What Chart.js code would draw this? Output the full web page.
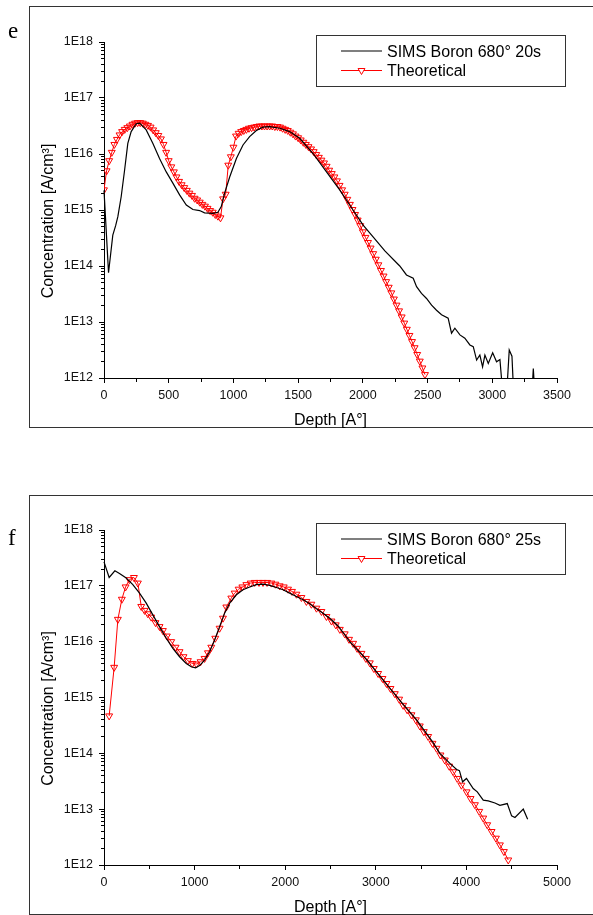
<!DOCTYPE html>
<html>
<head>
<meta charset="utf-8">
<title>Boron profiles, SIMS vs theoretical</title>
<script src="https://cdn.jsdelivr.net/npm/chart.js@4.4.1/dist/chart.umd.min.js"></script>
<style>
  html, body { margin: 0; padding: 0; background: #fff; }
  body { position: relative; width: 593px; height: 915px; overflow: hidden; }
  .frame { position: absolute; left: 29px; width: 600px; border: 1px solid #333; border-right: none; box-sizing: border-box; }
  .panel { position: absolute; left: 0; width: 593px; }
  canvas { display: block; }
</style>
</head>
<body>
<div class="frame" style="top:6px;height:422px"></div>
<div class="frame" style="top:495px;height:420px"></div>
<div class="panel" style="top:0;height:440px"><canvas id="chartE" width="593" height="440"></canvas></div>
<div class="panel" style="top:455px;height:460px"><canvas id="chartF" width="593" height="460"></canvas></div>

<script>
// ---- panel e : 680° 20s ----
const depthSimsE = [0, 35, 68, 90, 107, 133, 159, 184, 210, 249, 275, 326, 377, 429, 481, 532, 584, 636, 687, 739,
  777, 842, 880, 906, 932, 971, 1023, 1074, 1125, 1177, 1228, 1280, 1359, 1434, 1512, 1615, 1719, 1821, 1924, 2002,
  2079, 2170, 2285, 2337, 2389, 2415, 2453, 2492, 2531, 2569, 2608, 2659, 2685, 2711, 2750, 2788, 2827, 2853, 2879, 2904,
  2925, 2943, 2969, 3003, 3033, 3059, 3090, 3105, 3131, 3152, 3170, 3300, 3317, 3335];
const concSimsE = [2.24e15, 7.59e13, 3.55e14, 5.25e14, 7.59e14, 1.74e15, 5.13e15, 1.55e16, 2.51e16, 3.47e16, 3.55e16, 2.69e16, 1.55e16, 8.32e15, 4.79e15, 3.02e15, 1.86e15, 1.23e15, 1.02e15, 9.77e14,
  8.91e14, 8.71e14, 9.12e14, 1.15e15, 2.00e15, 3.89e15, 8.32e15, 1.45e16, 2.04e16, 2.63e16, 3.02e16, 3.09e16, 2.88e16, 2.51e16, 1.91e16, 1.02e16, 4.79e15, 2.29e15, 1.00e15, 5.37e14,
  3.31e14, 1.86e14, 1.00e14, 6.92e13, 6.03e13, 4.27e13, 3.24e13, 2.63e13, 2.00e13, 1.62e13, 1.35e13, 1.17e13, 6.31e12, 7.76e12, 5.89e12, 5.13e12, 3.89e12, 3.63e12, 2.09e12, 2.57e12,
  1.58e12, 2.57e12, 1.82e12, 2.82e12, 1.95e12, 2.14e12, 3e11, 3e11, 3.16e12, 2.45e12, 3e11, 3e11, 1.48e12, 3e11];

const depthTheoE = [0, 20, 40, 60, 80, 100, 120, 140, 160, 180, 200, 220, 240, 260, 280, 300, 320, 340, 360, 380,
  400, 420, 440, 460, 480, 500, 520, 540, 560, 580, 600, 620, 640, 660, 680, 700, 720, 740, 760, 780,
  800, 820, 840, 860, 880, 900, 920, 940, 960, 980, 1000, 1020, 1040, 1060, 1080, 1100, 1120, 1140, 1160, 1180,
  1200, 1220, 1240, 1260, 1280, 1300, 1320, 1340, 1360, 1380, 1400, 1420, 1440, 1460, 1480, 1500, 1520, 1540, 1560, 1580,
  1600, 1620, 1640, 1660, 1680, 1700, 1720, 1740, 1760, 1780, 1800, 1820, 1840, 1860, 1880, 1900, 1920, 1940, 1960, 1980,
  2000, 2020, 2040, 2060, 2080, 2100, 2120, 2140, 2160, 2180, 2200, 2220, 2240, 2260, 2280, 2300, 2320, 2340, 2360, 2380,
  2400, 2420, 2440, 2460, 2480];
const concTheoE = [2.29e15, 5.01e15, 7.59e15, 1.07e16, 1.48e16, 1.82e16, 2.19e16, 2.51e16, 2.75e16, 2.95e16,
  3.16e16, 3.39e16, 3.55e16, 3.63e16, 3.63e16, 3.55e16, 3.39e16, 3.24e16, 3.02e16, 2.69e16,
  2.40e16, 2.14e16, 1.86e16, 1.48e16, 1.07e16, 7.59e15, 5.89e15, 4.79e15, 3.89e15, 3.24e15,
  2.82e15, 2.51e15, 2.24e15, 2.00e15, 1.82e15, 1.62e15, 1.51e15, 1.38e15, 1.26e15, 1.17e15,
  1.07e15, 9.77e14, 9.12e14, 8.32e14, 7.76e14, 7.24e14, 1.58e15, 1.91e15, 6.31e15, 8.91e15,
  1.32e16, 2.09e16, 2.34e16, 2.51e16, 2.63e16, 2.75e16, 2.88e16, 2.95e16, 3.02e16, 3.09e16,
  3.16e16, 3.16e16, 3.16e16, 3.16e16, 3.16e16, 3.16e16, 3.09e16, 3.09e16, 3.02e16, 2.88e16,
  2.75e16, 2.63e16, 2.45e16, 2.29e16, 2.09e16, 1.95e16, 1.78e16, 1.62e16, 1.48e16, 1.35e16,
  1.23e16, 1.10e16, 9.77e15, 8.71e15, 7.76e15, 6.92e15, 6.03e15, 5.13e15, 4.47e15, 3.89e15,
  3.31e15, 2.75e15, 2.29e15, 1.91e15, 1.55e15, 1.26e15, 1.02e15, 8.32e14, 6.61e14, 5.25e14,
  4.07e14, 3.24e14, 2.63e14, 2.09e14, 1.66e14, 1.32e14, 1.05e14, 8.32e13, 6.61e13, 5.25e13,
  4.17e13, 3.31e13, 2.57e13, 2.00e13, 1.58e13, 1.23e13, 9.55e12, 7.41e12, 5.75e12, 4.47e12,
  3.47e12, 2.63e12, 2.00e12, 1.51e12, 1.15e12];

// ---- panel f : 680° 25s ----
const depthSimsF = [0, 57, 120, 171, 245, 318, 392, 466, 539, 613, 687, 760, 834, 908, 963, 1011, 1055, 1110, 1166, 1221,
  1276, 1331, 1387, 1461, 1534, 1608, 1682, 1755, 1829, 1903, 1976, 2050, 2124, 2197, 2271, 2345, 2418, 2492, 2584, 2713,
  2897, 3081, 3265, 3450, 3633, 3707, 3818, 3892, 3923, 3958, 4001, 4075, 4120, 4186, 4241, 4315, 4370, 4451, 4499, 4536,
  4628, 4676];
const concSimsF = [2.69e17, 1.41e17, 1.86e17, 1.66e17, 1.38e17, 1.05e17, 7.41e16, 4.90e16, 3.02e16, 1.86e16, 1.15e16, 7.59e15, 5.37e15, 4.07e15, 3.55e15, 3.39e15, 3.72e15, 4.68e15, 6.61e15, 1.07e16,
  1.86e16, 3.24e16, 4.90e16, 6.92e16, 8.51e16, 9.55e16, 1.05e17, 1.07e17, 1.02e17, 9.33e16, 8.51e16, 7.41e16, 6.46e16, 5.62e16, 4.79e16, 3.89e16, 3.24e16, 2.63e16, 1.91e16, 1.00e16,
  4.79e15, 2.04e15, 8.91e14, 3.98e14, 1.55e14, 1.00e14, 6.61e13, 5.13e13, 4.90e13, 3.09e13, 3.55e13, 2.34e13, 2.04e13, 1.45e13, 1.41e13, 1.29e13, 1.17e13, 1.26e13, 7.59e12, 7.08e12,
  1.00e13, 6.61e12];

const depthTheoF = [57, 112, 153, 197, 238, 280, 330, 374, 411, 448, 484, 521, 569, 613, 650, 694, 742, 790, 834, 878,
  926, 974, 1019, 1066, 1110, 1147, 1184, 1228, 1276, 1313, 1350, 1405, 1442, 1486, 1527, 1571, 1619, 1663, 1711, 1755,
  1800, 1847, 1892, 1939, 1984, 2031, 2075, 2124, 2179, 2234, 2289, 2345, 2400, 2455, 2511, 2558, 2603, 2657, 2705, 2750,
  2794, 2842, 2890, 2934, 2978, 3026, 3074, 3118, 3162, 3210, 3258, 3302, 3346, 3394, 3442, 3486, 3530, 3578, 3626, 3670,
  3714, 3762, 3810, 3854, 3899, 3945, 4002, 4046, 4094, 4142, 4186, 4230, 4278, 4326, 4370, 4414, 4462];
const concTheoF = [4.68e14, 3.47e15, 2.51e16, 5.75e16, 9.55e16, 1.29e17, 1.41e17, 1.12e17, 4.27e16, 3.63e16,
  3.16e16, 2.75e16, 2.19e16, 1.86e16, 1.58e16, 1.26e16, 1.00e16, 7.94e15, 6.61e15, 5.37e15,
  4.57e15, 4.07e15, 3.98e15, 4.37e15, 5.01e15, 6.31e15, 7.94e15, 1.15e16, 1.74e16, 2.63e16,
  4.17e16, 6.03e16, 7.41e16, 8.71e16, 9.55e16, 1.05e17, 1.12e17, 1.15e17, 1.15e17, 1.15e17,
  1.15e17, 1.12e17, 1.07e17, 1.00e17, 9.55e16, 8.71e16, 7.94e16, 7.08e16, 6.17e16, 5.25e16,
  4.68e16, 3.98e16, 3.47e16, 2.82e16, 2.34e16, 2.00e16, 1.66e16, 1.38e16, 1.10e16, 9.33e15,
  7.59e15, 6.17e15, 5.01e15, 4.17e15, 3.31e15, 2.69e15, 2.19e15, 1.78e15, 1.45e15, 1.17e15,
  9.33e14, 7.24e14, 6.03e14, 4.90e14, 3.98e14, 3.09e14, 2.45e14, 2.00e14, 1.51e14, 1.23e14,
  9.33e13, 7.59e13, 5.89e13, 4.68e13, 3.55e13, 2.69e13, 2.04e13, 1.55e13, 1.20e13, 9.12e12,
  6.92e12, 5.25e12, 3.98e12, 3.02e12, 2.29e12, 1.74e12, 1.23e12];

// ---- axes / labels ----
const xTicksE = [0, 500, 1000, 1500, 2000, 2500, 3000, 3500];
const xTicksF = [0, 1000, 2000, 3000, 4000, 5000];
const yTicks = [1e12, 1e13, 1e14, 1e15, 1e16, 1e17, 1e18];
const yTickLabels = ['1E12', '1E13', '1E14', '1E15', '1E16', '1E17', '1E18'];
const namesE = ['SIMS Boron 680° 20s', 'Theoretical'];
const namesF = ['SIMS Boron 680° 25s', 'Theoretical'];
const xTitle = 'Depth [A°]';
const yTitle = 'Concentration [A/cm³]';

const SANS = '"Liberation Sans", Arial, sans-serif';
const tickFont = { family: SANS, size: 12.5 };

function crisp(p) { return Math.round(p - 0.5) + 0.5; }

// minor ticks, axis titles, framed legend and the panel letter
const decor = {
  id: 'decor',
  afterDraw(chart, args, o) {
    const { ctx, chartArea: a, scales: { x, y } } = chart;
    ctx.save();
    ctx.strokeStyle = '#000';
    ctx.lineWidth = 1;
    ctx.beginPath();
    for (let d = 12; d < 18; d++) {
      for (let m = 2; m < 10; m++) {
        const py = crisp(y.getPixelForValue(m * Math.pow(10, d)));
        ctx.moveTo(a.left - 3, py);
        ctx.lineTo(a.left, py);
      }
    }
    o.xTicks.slice(1).forEach((v, i) => {
      const px = crisp(x.getPixelForValue((v + o.xTicks[i]) / 2));
      ctx.moveTo(px, a.bottom);
      ctx.lineTo(px, a.bottom + 4);
    });
    ctx.stroke();

    ctx.fillStyle = '#000';
    ctx.font = '16px ' + SANS;
    ctx.textAlign = 'center';
    ctx.textBaseline = 'alphabetic';
    ctx.fillText(xTitle, (a.left + a.right) / 2, a.bottom + 46.5);
    ctx.save();
    ctx.translate(52.5, (a.top + a.bottom) / 2 + 11);
    ctx.rotate(-Math.PI / 2);
    ctx.fillText(yTitle, 0, 0);
    ctx.restore();

    // legend box
    const lx = 316, ly = a.top - 7;
    ctx.strokeStyle = '#333';
    ctx.strokeRect(lx + 0.5, ly + 0.5, 249, 51);
    ctx.textAlign = 'left';
    chart.data.datasets.forEach((ds, i) => {
      const ry = ly + 16 + i * 19.5;
      ctx.strokeStyle = ds.borderColor;
      ctx.lineWidth = ds.borderWidth;
      ctx.beginPath();
      ctx.moveTo(341, ry);
      ctx.lineTo(382, ry);
      ctx.stroke();
      if (ds.pointRadius) {
        const r = ds.pointRadius, cx = 361.5;
        ctx.lineWidth = 1;
        ctx.fillStyle = '#fff';
        ctx.beginPath();
        ctx.moveTo(cx, ry + r);
        ctx.lineTo(cx - r * 0.866, ry - r / 2);
        ctx.lineTo(cx + r * 0.866, ry - r / 2);
        ctx.closePath();
        ctx.fill();
        ctx.stroke();
      }
      ctx.fillStyle = '#000';
      ctx.fillText(ds.label, 387, ry + 5.5);
    });

    ctx.font = '23px "Liberation Serif", "Times New Roman", serif';
    ctx.fillText(o.panel, 8, o.panelY);
    ctx.restore();
  }
};

function makeChart(id, cfg) {
  return new Chart(document.getElementById(id), {
    type: 'line',
    data: {
      datasets: [
        {
          label: cfg.names[0],
          data: cfg.simsX.map((x, i) => ({ x, y: cfg.simsY[i] })),
          borderColor: '#000',
          borderWidth: 1.2,
          pointRadius: 0,
          clip: { left: 2, top: 2, right: 2, bottom: 0 }
        },
        {
          label: cfg.names[1],
          data: cfg.theoX.map((x, i) => ({ x, y: cfg.theoY[i] })),
          borderColor: '#ff0000',
          borderWidth: 1,
          pointStyle: 'triangle',
          pointRotation: 180,
          pointRadius: 4,
          pointBorderWidth: 1,
          pointBorderColor: '#ff0000',
          pointBackgroundColor: 'rgba(255,255,255,0)'
        }
      ]
    },
    options: {
      responsive: false,
      animation: false,
      events: [],
      layout: { padding: { left: 0, right: 36, top: cfg.top, bottom: 0 } },
      plugins: {
        legend: { display: false },
        tooltip: { enabled: false },
        decor: { xTicks: cfg.xTicks, panel: cfg.panel, panelY: cfg.panelY }
      },
      scales: {
        x: {
          type: 'linear',
          min: 0,
          max: cfg.xTicks[cfg.xTicks.length - 1],
          afterBuildTicks: s => { s.ticks = cfg.xTicks.map(v => ({ value: v })); },
          afterFit: s => { s.height = cfg.xAxisH; },
          ticks: { font: tickFont, color: '#111', padding: 5, maxRotation: 0, autoSkip: false, callback: (v, i) => String(cfg.xTicks[i]) },
          grid: { drawOnChartArea: false, tickLength: 5, color: '#000' },
          border: { color: '#000', width: 1 }
        },
        y: {
          type: 'logarithmic',
          min: 1e12,
          max: 1e18,
          afterBuildTicks: s => { s.ticks = yTicks.map(v => ({ value: v })); },
          afterFit: s => { s.width = 104; },
          ticks: { font: tickFont, color: '#111', padding: 6, autoSkip: false, callback: (v, i) => yTickLabels[i] },
          grid: { drawOnChartArea: false, tickLength: 5, color: '#000' },
          border: { color: '#000', width: 1 }
        }
      }
    },
    plugins: [decor]
  });
}

makeChart('chartE', {
  names: namesE, simsX: depthSimsE, simsY: concSimsE, theoX: depthTheoE, theoY: concTheoE,
  xTicks: xTicksE, top: 42, xAxisH: 62, panel: 'e', panelY: 38
});
makeChart('chartF', {
  names: namesF, simsX: depthSimsF, simsY: concSimsF, theoX: depthTheoF, theoY: concTheoF,
  xTicks: xTicksF, top: 75, xAxisH: 50, panel: 'f', panelY: 90
});
</script>
</body>
</html>
